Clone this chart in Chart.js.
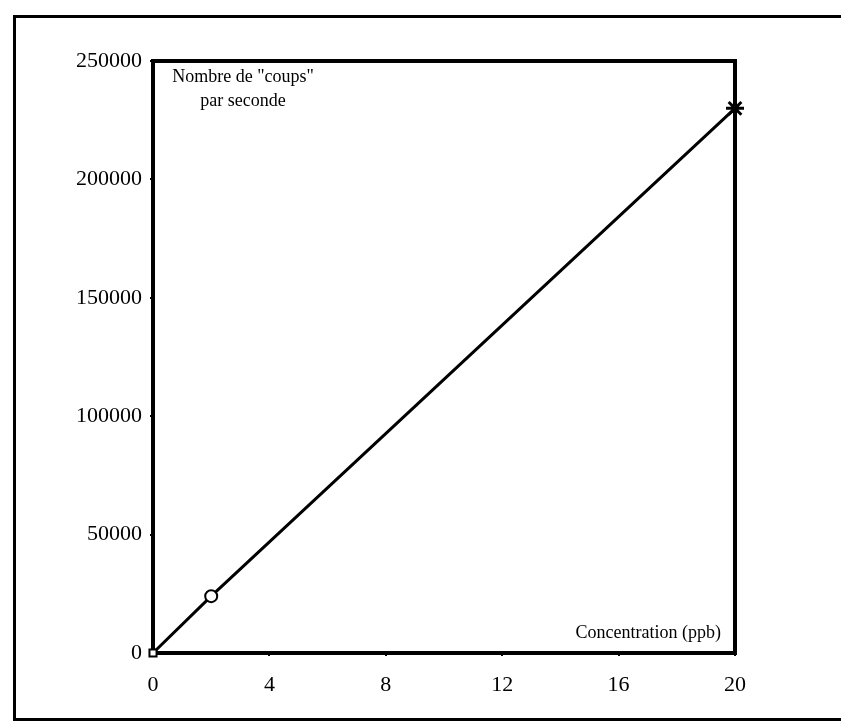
<!DOCTYPE html>
<html>
<head>
<meta charset="utf-8">
<script src="https://cdn.jsdelivr.net/npm/chart.js@4/dist/chart.umd.min.js"></script>
<style>
  html, body { margin: 0; padding: 0; background: #fff; overflow: hidden; }
  #frame {
    position: absolute; left: 13px; top: 15px;
    width: 900px; height: 700px;
    border-left: 3px solid #000; border-top: 3px solid #000; border-bottom: 3px solid #000;
  }
  #wrap { position: absolute; left: 0; top: 0; width: 841px; height: 722px; }
</style>
</head>
<body>
<div id="frame"></div>
<div id="wrap"><canvas id="myChart" width="841" height="722"></canvas></div>
<script>
let concentration = [0, 2, 20];
let coups = [0, 24000, 230000];
let markers = ['rect', 'circle', 'star'];
let xTicks = [0, 4, 8, 12, 16, 20];
let yTicks = [0, 50000, 100000, 150000, 200000, 250000];

let yTitle = ['Nombre de "coups"', 'par seconde'];
let xTitle = 'Concentration (ppb)';

let points = [];
for (let i = 0; i < concentration.length; i++) {
  points.push({ x: concentration[i], y: coups[i] });
}

// box round the plot + the two axis titles inside it
let boxPlugin = {
  id: 'box',
  beforeDatasetsDraw: function (chart) {
    let ctx = chart.ctx;
    let a = chart.chartArea;
    ctx.save();
    ctx.strokeStyle = '#000';
    ctx.lineWidth = 4;
    ctx.strokeRect(a.left, a.top, a.right - a.left, a.bottom - a.top);
    ctx.fillStyle = '#000';
    ctx.font = '18px "Liberation Serif"';
    ctx.textAlign = 'center';
    ctx.textBaseline = 'middle';
    ctx.fillText(yTitle[0], a.left + 90, a.top + 16);
    ctx.fillText(yTitle[1], a.left + 90, a.top + 40);
    ctx.textAlign = 'right';
    ctx.fillText(xTitle, a.right - 14, a.bottom - 20);
    ctx.restore();
  }
};

window.onload = function () {
  let ctx = document.getElementById('myChart').getContext('2d');

  window.myChart = new Chart(ctx, {
    type: 'scatter',
    data: {
      datasets: [{
        data: points,
        showLine: true,
        clip: false,
        borderColor: '#000',
        borderWidth: 3,
        pointStyle: markers,
        pointRadius: [5, 6, 9],
        pointBorderWidth: [2, 2, 3],
        pointBorderColor: '#000',
        pointBackgroundColor: '#fff'
      }]
    },
    options: {
      responsive: false,
      animation: false,
      layout: { padding: { left: 0, top: 61, right: 106, bottom: 0 } },
      plugins: { legend: { display: false }, tooltip: { enabled: false } },
      scales: {
        x: {
          type: 'linear',
          min: 0, max: 20,
          afterFit: function (s) { s.height = 69; },
          afterBuildTicks: function (s) { s.ticks = xTicks.map(v => ({ value: v })); },
          grid: { drawOnChartArea: false, drawTicks: true, tickLength: 3, color: '#000', lineWidth: 2 },
          border: { display: false },
          ticks: { color: '#000', font: { family: 'Liberation Serif', size: 22 }, padding: 16, maxRotation: 0 }
        },
        y: {
          type: 'linear',
          min: 0, max: 250000,
          afterFit: function (s) { s.width = 153; },
          afterBuildTicks: function (s) { s.ticks = yTicks.map(v => ({ value: v })); },
          grid: { drawOnChartArea: false, drawTicks: true, tickLength: 3, color: '#000', lineWidth: 2 },
          border: { display: false },
          ticks: { color: '#000', font: { family: 'Liberation Serif', size: 22 }, padding: 8, callback: v => String(v) }
        }
      }
    },
    plugins: [boxPlugin]
  });
};
</script>
</body>
</html>
